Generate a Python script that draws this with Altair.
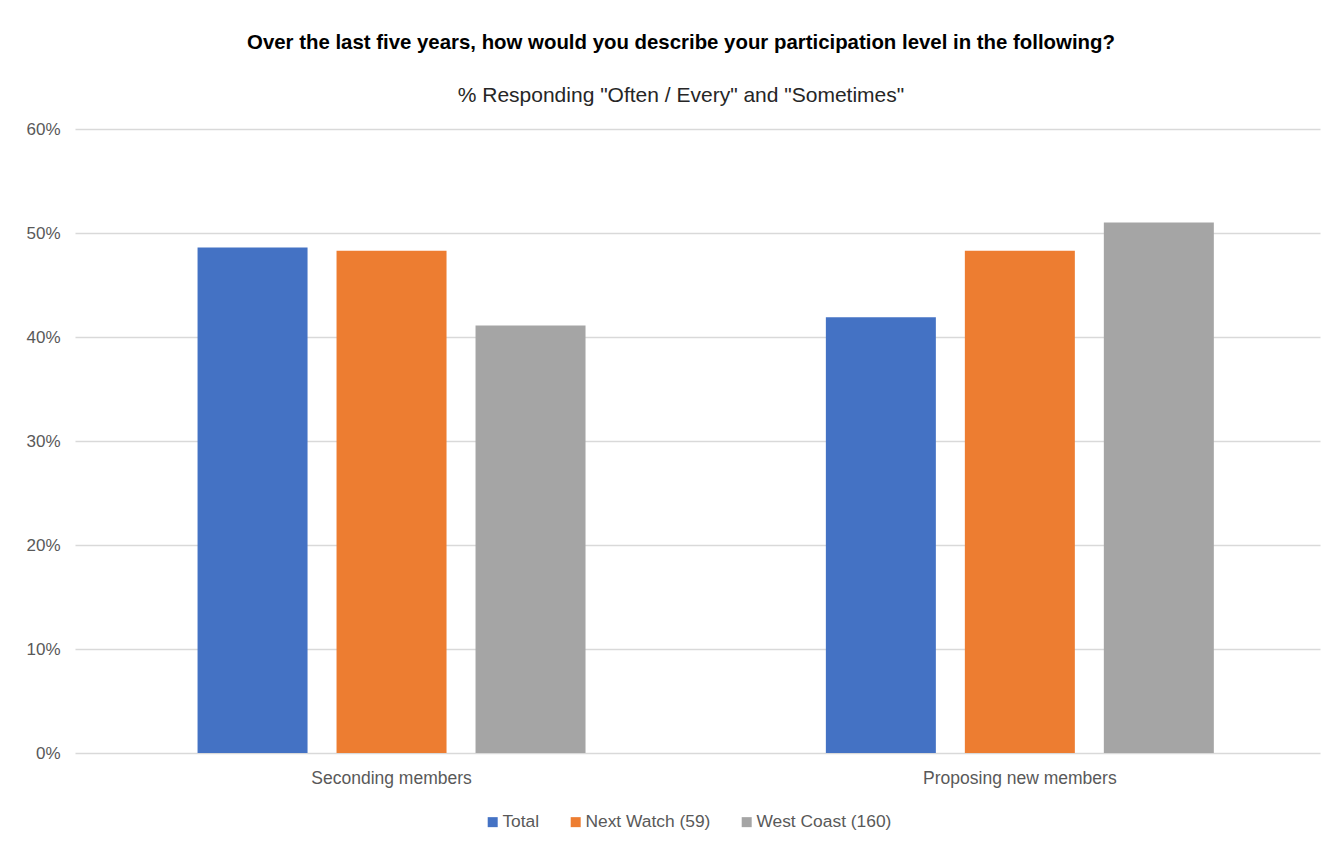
import altair as alt
import pandas as pd

categories = ["Seconding members", "Proposing new members"]
series = ["Total", "Next Watch (59)", "West Coast (160)"]
total = [0.486, 0.419]
next_watch = [0.483, 0.483]
west_coast = [0.411, 0.510]
colors = ["#4472C4", "#ED7D31", "#A5A5A5"]

rows = []
for i, c in enumerate(categories):
    for s, vals in zip(series, [total, next_watch, west_coast]):
        rows.append({"category": c, "series": s, "value": vals[i]})
df = pd.DataFrame(rows)

FONT = "Liberation Sans"

chart = alt.Chart(df).mark_bar().encode(
    x=alt.X("category:N", sort=categories, title=None,
            scale=alt.Scale(paddingInner=0.3365, paddingOuter=0.159, align=0.541),
            axis=alt.Axis(labelAngle=0, labelFontSize=17.5, labelColor="#595959", labelFont=FONT,
                          labelPadding=16, ticks=False, grid=False, domain=False, labelLimit=0)),
    xOffset=alt.XOffset("series:N", sort=series,
                        scale=alt.Scale(paddingInner=0.2086, paddingOuter=0.104)),
    y=alt.Y("value:Q", title=None,
            scale=alt.Scale(domain=[0, 0.6]),
            axis=alt.Axis(format=".0%", values=[0, 0.1, 0.2, 0.3, 0.4, 0.5, 0.6],
                          labelFontSize=17, labelColor="#595959", labelFont=FONT,
                          labelPadding=15, ticks=False, domain=False,
                          gridColor="#D9D9D9", gridWidth=1.5)),
    color=alt.Color("series:N", sort=series,
                    scale=alt.Scale(domain=series, range=colors),
                    legend=alt.Legend(title=None, orient="none", direction="horizontal",
                                      legendX=409, legendY=684,
                                      symbolType="square", symbolSize=100, labelFontSize=17.4,
                                      labelFont=FONT, labelColor="#595959", columnPadding=27,
                                      symbolStrokeWidth=0, labelOffset=1, labelLimit=0)),
).properties(
    width=1245,
    height=624,
    padding={"left": 17, "top": 24, "right": 3, "bottom": 5},
    title=alt.TitleParams(
        text="Over the last five years, how would you describe your participation level in the following?",
        subtitle='% Responding "Often / Every" and "Sometimes"',
        anchor="middle", frame="bounds", dx=8,
        font=FONT, fontSize=20.4, fontWeight="bold", color="#000000",
        subtitleFont=FONT, subtitleFontSize=21, subtitleColor="#262626",
        subtitlePadding=32, offset=14,
    ),
).configure(background="white").configure_view(stroke=None)

chart.save("out.html", embed_options={"renderer": "svg", "actions": False})
